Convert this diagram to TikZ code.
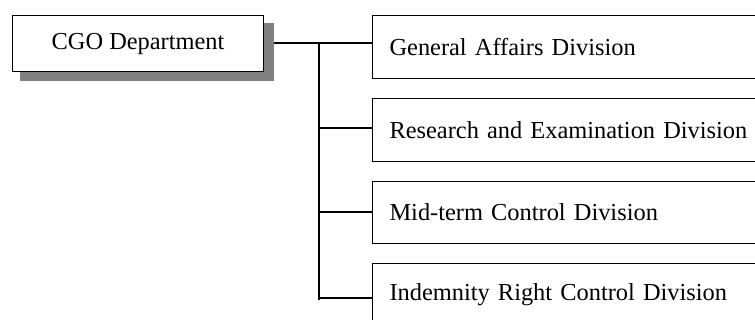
\documentclass[tikz,border=0pt]{standalone}
\usepackage{fontspec}
\setmainfont{Liberation Serif}
\begin{document}
\begin{tikzpicture}[x=1pt,y=-1pt,
  every node/.style={font=\fontsize{24.4}{28}\selectfont},
  headbox/.style={draw=black, line width=1.1pt, fill=white, rectangle,
    minimum width=251pt, minimum height=56pt, inner sep=0pt, anchor=north west},
  shadowbox/.style={fill=black!50, rectangle, minimum width=254pt,
    minimum height=58pt, inner sep=0pt, anchor=north west},
  divbox/.style={draw=black, line width=1.1pt, rectangle, anchor=north west,
    minimum width=400pt, minimum height=63pt, inner xsep=17pt, inner ysep=0pt,
    text width=366pt, align=left},
  link/.style={draw=black, line width=1.1pt}]
\useasboundingbox (0,0) rectangle (755,320);
\clip (0,0) rectangle (755,320);

% department head with drop shadow
\node[shadowbox] (shd) at (20,23) {};
\node[headbox] (cgo) at (12,15) {CGO Department};

% divisions (right edges run off the page)
\node[divbox] (d1) at (372,15) {General Affairs Division};
\node[divbox] (d2) at (372,98) {Research and Examination Division};
\node[divbox, minimum height=62pt] (d3) at (372,181) {Mid-term Control Division};
\node[divbox] (d4) at (372,263) {Indemnity Right Control Division};

% trunk and branches
\coordinate (top) at (319,42);
\coordinate (bot) at (319,300);
\coordinate (j1) at (319,43);
\coordinate (j2) at (319,128);
\coordinate (j3) at (319,212);
\coordinate (j4) at (319,298);

\draw[link] (shd.east |- j1) -- (d1.west |- j1);
\draw[link] (top) -- (bot);
\draw[link] (j2) -- (d2.west |- j2);
\draw[link] (j3) -- (d3.west |- j3);
\draw[link] (j4) -- (d4.west |- j4);
\end{tikzpicture}
\end{document}
